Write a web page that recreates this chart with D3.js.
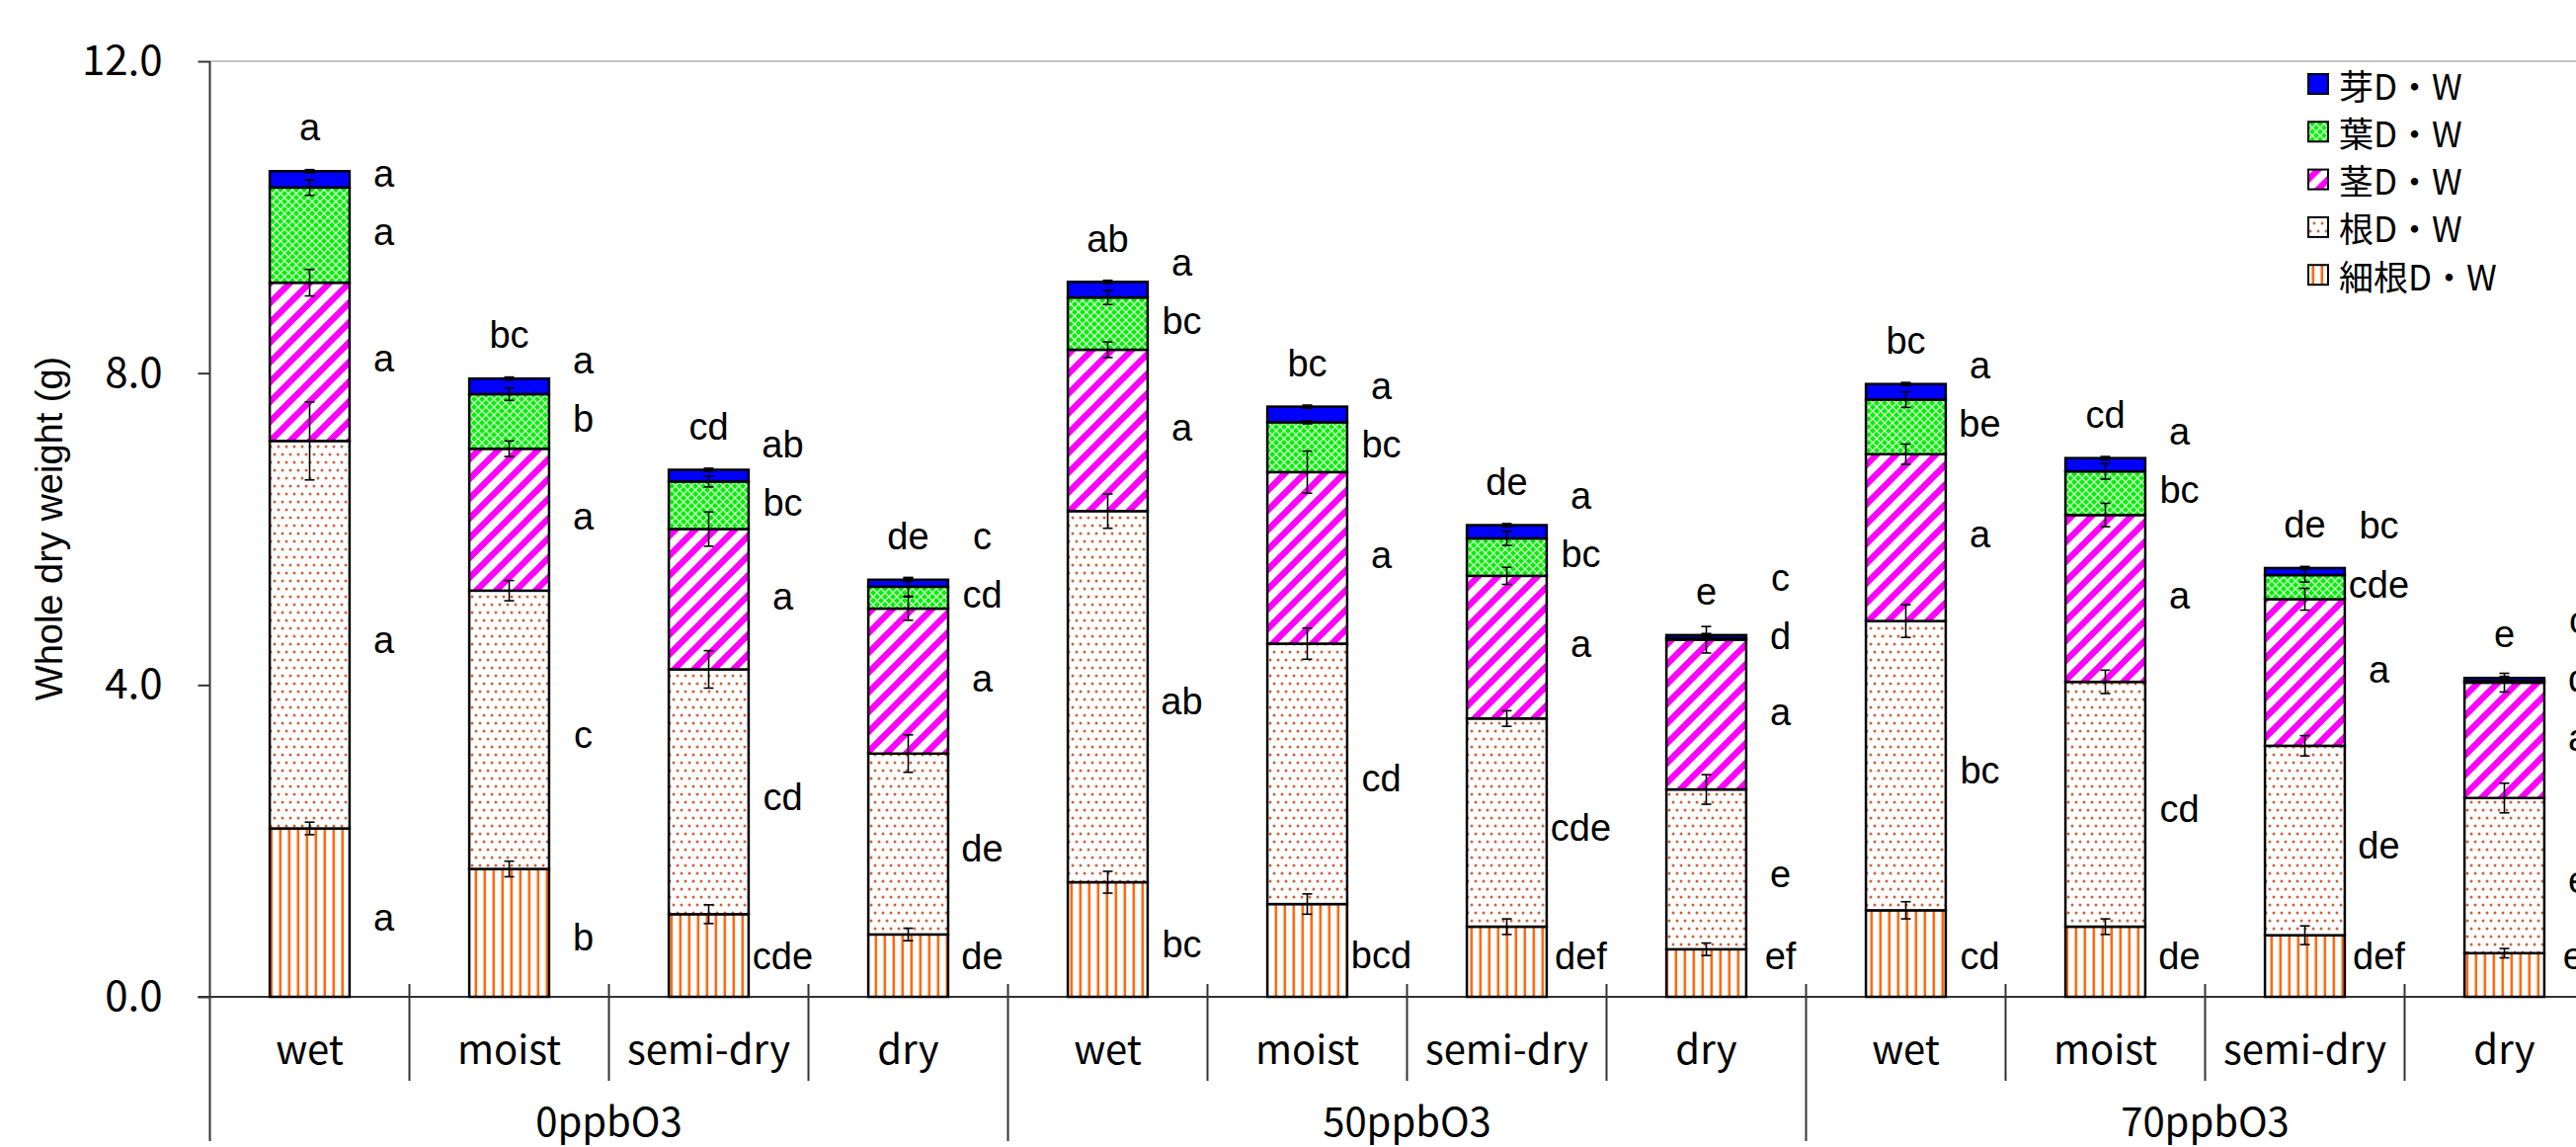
<!DOCTYPE html>
<html>
<head>
<meta charset="utf-8">
<script src="https://cdn.jsdelivr.net/npm/d3@7"></script>
<style>
  html, body { margin: 0; padding: 0; background: #fff; overflow: hidden; }
  svg { display: block; }
  .jp { font-family: "Noto Sans CJK JP", "Noto Sans", sans-serif; }
  .sig { font-family: "Liberation Sans", Arial, sans-serif; font-size: 38px; }
</style>
</head>
<body>
<svg id="chart" width="2608" height="1161"></svg>
<script>
"use strict";

// categories
const groups = ['0ppbO3', '50ppbO3', '70ppbO3'];
const moisture = ['wet', 'moist', 'semi-dry', 'dry'];
const legendLabels = ['芽D・W', '葉D・W', '茎D・W', '根D・W', '細根D・W'];
const yTicks = [0, 4, 8, 12];

// dry weight (g) per part, bars in order group x moisture
const fineRoot = [2.16, 1.64, 1.06, 0.80, 1.47, 1.19, 0.90, 0.61, 1.11, 0.90, 0.79, 0.56];
const root     = [4.97, 3.57, 3.14, 2.32, 4.76, 3.34, 2.67, 2.05, 3.71, 3.14, 2.43, 1.99];
const stem     = [2.03, 1.82, 1.80, 1.86, 2.07, 2.20, 1.83, 1.92, 2.14, 2.14, 1.88, 1.48];
const leaf     = [1.22, 0.70, 0.61, 0.28, 0.67, 0.64, 0.48, 0.02, 0.70, 0.56, 0.31, 0.02];
const bud      = [0.21, 0.20, 0.15, 0.09, 0.20, 0.20, 0.17, 0.04, 0.20, 0.17, 0.09, 0.04];

// standard errors
const fineRootSE = [0.08, 0.10, 0.12, 0.08, 0.14, 0.13, 0.10, 0.08, 0.11, 0.10, 0.12, 0.06];
const rootSE     = [0.50, 0.13, 0.24, 0.24, 0.22, 0.20, 0.10, 0.19, 0.21, 0.15, 0.13, 0.19];
const stemSE     = [0.17, 0.10, 0.22, 0.15, 0.10, 0.27, 0.11, 0.17, 0.13, 0.15, 0.14, 0.12];
const leafSE     = [0.10, 0.08, 0.07, 0.12, 0.09, 0.02, 0.09, 0.02, 0.10, 0.10, 0.09, 0.02];
const budSE      = [0.02, 0.02, 0.02, 0.02, 0.02, 0.02, 0.02, 0.02, 0.02, 0.02, 0.02, 0.02];

// significance letters
const fineLetters  = ['a', 'b', 'cde', 'de', 'bc', 'bcd', 'def', 'ef', 'cd', 'de', 'def', 'ef'];
const rootLetters  = ['a', 'c', 'cd', 'de', 'ab', 'cd', 'cde', 'e', 'bc', 'cd', 'de', 'e'];
const stemLetters  = ['a', 'a', 'a', 'a', 'a', 'a', 'a', 'a', 'a', 'a', 'a', 'a'];
const leafLetters  = ['a', 'b', 'bc', 'cd', 'bc', 'bc', 'bc', 'd', 'be', 'bc', 'cde', 'd'];
const budLetters   = ['a', 'a', 'ab', 'c', 'a', 'a', 'a', 'c', 'a', 'a', 'bc', 'c'];
const totalLetters = ['a', 'bc', 'cd', 'de', 'ab', 'bc', 'de', 'e', 'bc', 'cd', 'de', 'e'];

const layerKeys = ['fine', 'root', 'stem', 'leaf', 'bud'];
const seByKey = {fine: fineRootSE, root: rootSE, stem: stemSE, leaf: leafSE, bud: budSE};
const lettersByKey = {fine: fineLetters, root: rootLetters, stem: stemLetters, leaf: leafLetters, bud: budLetters};
const fillByKey = {fine: 'url(#pat-fine)', root: 'url(#pat-root)', stem: 'url(#pat-stem)', leaf: 'url(#pat-leaf)', bud: '#0000ff'};

const barKeys = groups.flatMap(g => moisture.map(m => g + '|' + m));
const table = barKeys.map((k, i) => ({
    key: k, fine: fineRoot[i], root: root[i], stem: stem[i], leaf: leaf[i], bud: bud[i]
}));

const svg = d3.select('#chart');
const left = 212.5, bandW = 202, baseY = 1009;

const x = d3.scaleBand().domain(barKeys).range([left, left + bandW * barKeys.length]).padding(0);
const barW = x.bandwidth() * 0.4;
const y = d3.scaleLinear().domain([0, 12]).range([baseY, 62]);
const cx = k => x(k) + x.bandwidth() / 2;

/*-- Patterns ----------------------------------------------------------------*/
const defs = svg.append('defs');

const leafPat = defs.append('pattern').attr('id', 'pat-leaf')
    .attr('patternUnits', 'userSpaceOnUse').attr('width', 8).attr('height', 8);
leafPat.append('rect').attr('width', 8).attr('height', 8).attr('fill', '#00f000');
leafPat.append('path').attr('d', 'M0,0L8,8M8,0L0,8')
    .attr('stroke', '#d8ffd8').attr('stroke-width', 1.3);

const stemPat = defs.append('pattern').attr('id', 'pat-stem')
    .attr('patternUnits', 'userSpaceOnUse').attr('width', 20).attr('height', 20);
stemPat.append('rect').attr('width', 20).attr('height', 20).attr('fill', '#fff');
stemPat.append('path').attr('d', 'M-5,5L5,-5M0,20L20,0M15,25L25,15')
    .attr('stroke', '#ff00ff').attr('stroke-width', 6.5);

const rootPat = defs.append('pattern').attr('id', 'pat-root')
    .attr('patternUnits', 'userSpaceOnUse').attr('width', 8).attr('height', 16);
rootPat.append('rect').attr('width', 8).attr('height', 16).attr('fill', '#fff');
rootPat.selectAll('circle').data([[2, 4], [6, 12]]).enter().append('circle')
    .attr('cx', d => d[0]).attr('cy', d => d[1]).attr('r', 1.5).attr('fill', '#c8643c');

const finePat = defs.append('pattern').attr('id', 'pat-fine')
    .attr('patternUnits', 'userSpaceOnUse').attr('width', 9).attr('height', 9);
finePat.append('rect').attr('width', 9).attr('height', 9).attr('fill', '#fff');
finePat.append('rect').attr('x', 3.5).attr('width', 2.6).attr('height', 9).attr('fill', '#ff6a10');

/*-- Axes --------------------------------------------------------------------*/
svg.append('line')
   .attr('x1', left).attr('x2', 2608).attr('y1', y(12)).attr('y2', y(12))
   .attr('stroke', '#c4c4c4').attr('stroke-width', 2);

const yAxis = svg.append('g')
   .attr('transform', 'translate(' + left + ',0)')
   .call(d3.axisLeft(y).tickValues(yTicks).tickFormat(d3.format('.1f')).tickSize(12).tickPadding(36));
yAxis.select('.domain').remove();
yAxis.selectAll('line').attr('stroke', '#333').attr('stroke-width', 2);
yAxis.selectAll('text')
     .attr('class', 'jp')
     .style('font-size', '42px')
     .attr('fill', '#000');

svg.append('line')
   .attr('x1', left).attr('x2', left).attr('y1', y(12)).attr('y2', 1155)
   .attr('stroke', '#333').attr('stroke-width', 2);

svg.append('line')
   .attr('x1', left - 12).attr('x2', 2608).attr('y1', baseY).attr('y2', baseY)
   .attr('stroke', '#333').attr('stroke-width', 2);

// category separators
svg.append('g').selectAll('line')
   .data(barKeys.slice(1).filter((k, i) => (i + 1) % moisture.length !== 0))
   .enter().append('line')
   .attr('x1', d => x(d)).attr('x2', d => x(d))
   .attr('y1', 996).attr('y2', 1094)
   .attr('stroke', '#333').attr('stroke-width', 2);

// group separators
svg.append('g').selectAll('line')
   .data(groups.slice(1).map((g, i) => barKeys[(i + 1) * moisture.length]))
   .enter().append('line')
   .attr('x1', d => x(d)).attr('x2', d => x(d))
   .attr('y1', 996).attr('y2', 1155)
   .attr('stroke', '#333').attr('stroke-width', 2);

svg.append('g').selectAll('text')
   .data(barKeys).enter().append('text')
   .attr('class', 'jp')
   .attr('x', d => cx(d)).attr('y', 1060)
   .attr('text-anchor', 'middle').attr('dominant-baseline', 'central')
   .style('font-size', '40px')
   .text(d => d.split('|')[1]);

svg.append('g').selectAll('text')
   .data(groups).enter().append('text')
   .attr('class', 'jp')
   .attr('x', (d, i) => left + bandW * moisture.length * (i + 0.5)).attr('y', 1133)
   .attr('text-anchor', 'middle').attr('dominant-baseline', 'central')
   .style('font-size', '40px')
   .text(d => d);

svg.append('text')
   .attr('transform', 'translate(50,535) rotate(-90)')
   .attr('text-anchor', 'middle').attr('dominant-baseline', 'central')
   .style('font-family', '"Liberation Sans", Arial, sans-serif')
   .style('font-size', '38px')
   .text('Whole dry weight (g)');

/*-- Bars --------------------------------------------------------------------*/
const series = d3.stack().keys(layerKeys)(table);

const layer = svg.append('g').selectAll('g')
   .data(series).enter().append('g')
   .attr('fill', d => fillByKey[d.key]);

layer.selectAll('rect')
     .data(d => d).enter().append('rect')
     .attr('x', d => cx(d.data.key) - barW / 2)
     .attr('width', barW)
     .attr('y', d => y(d[1]))
     .attr('height', d => y(d[0]) - y(d[1]))
     .attr('stroke', '#000').attr('stroke-width', 2.5);

// error bars at each segment top
const errG = svg.append('g').attr('stroke', '#000').attr('stroke-width', 1.6);
series.forEach(s => {
    s.forEach((d, i) => {
        const se = seByKey[s.key][i];
        const px = cx(d.data.key);
        const hi = y(d[1] + se), lo = y(d[1] - se);
        errG.append('line').attr('x1', px).attr('x2', px).attr('y1', hi).attr('y2', lo);
        errG.append('line').attr('x1', px - 5).attr('x2', px + 5).attr('y1', hi).attr('y2', hi);
        errG.append('line').attr('x1', px - 5).attr('x2', px + 5).attr('y1', lo).attr('y2', lo);
    });
});

/*-- Letters -----------------------------------------------------------------*/
const labelG = svg.append('g').attr('class', 'sig');
barKeys.forEach((k, i) => {
    let prev = -Infinity;
    series.forEach((s, j) => {
        const d = s[i];
        let at = (d[0] + d[1]) / 2;
        if (j < 2) at -= 0.1;
        if (j === 0) at = Math.max(at, 0.49);
        at = Math.max(at, prev + 0.75);
        prev = at;
        labelG.append('text')
              .attr('x', cx(k) + 75).attr('y', y(at)).attr('dy', '0.27em')
              .attr('text-anchor', 'middle')
              .text(lettersByKey[s.key][i]);
    });
    const top = series[series.length - 1][i][1];
    labelG.append('text')
          .attr('x', cx(k)).attr('y', y(top + 0.52)).attr('dy', '0.27em')
          .attr('text-anchor', 'middle')
          .text(totalLetters[i]);
});

/*-- Legend ------------------------------------------------------------------*/
const legendFills = layerKeys.slice().reverse().map(k => fillByKey[k]);
const legendRow = svg.append('g').selectAll('g')
   .data(legendLabels).enter().append('g')
   .attr('transform', (d, i) => 'translate(2337,' + (85 + i * 48.3) + ')');

legendRow.append('rect')
   .attr('x', 0).attr('y', -10).attr('width', 20).attr('height', 20)
   .attr('fill', (d, i) => legendFills[i])
   .attr('stroke', '#000').attr('stroke-width', 2);

legendRow.append('text')
   .attr('class', 'jp')
   .attr('x', 31).attr('y', 0).attr('dominant-baseline', 'central')
   .style('font-size', '35px')
   .text(d => d);
</script>
</body>
</html>
